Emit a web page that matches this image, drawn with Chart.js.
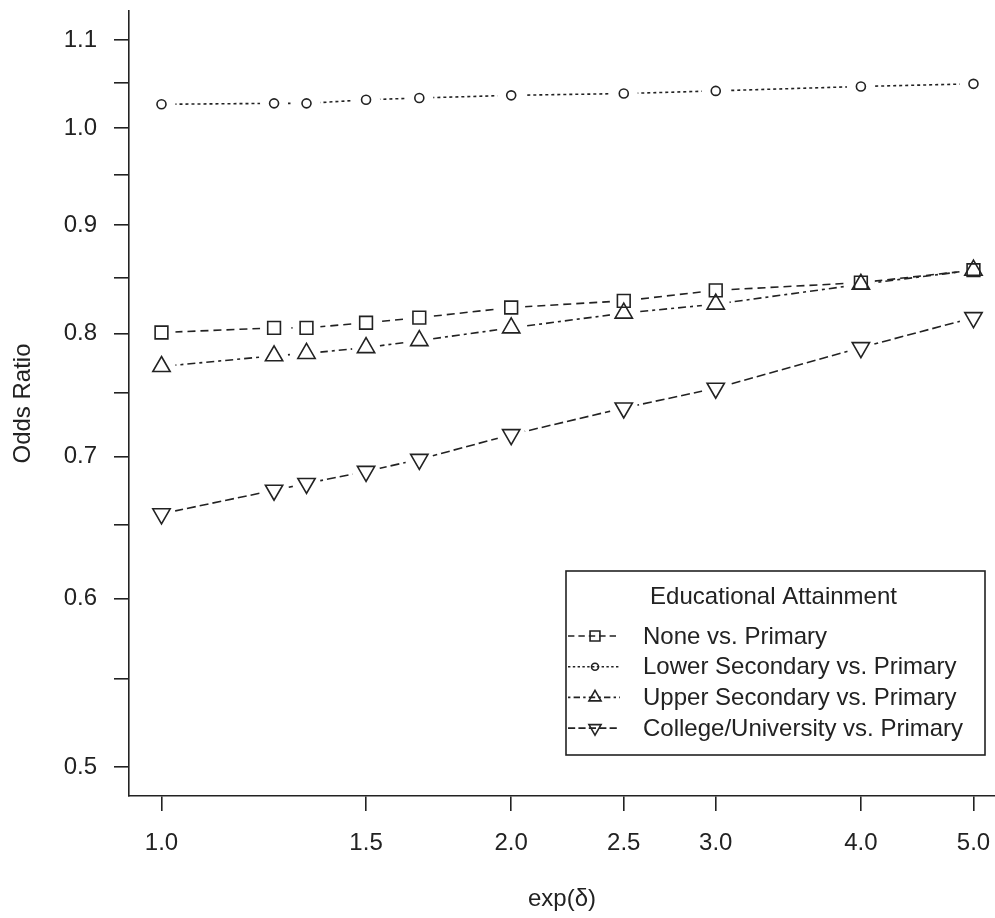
<!DOCTYPE html>
<html><head><meta charset="utf-8">
<script src="https://cdn.jsdelivr.net/npm/chart.js@4/dist/chart.umd.min.js"></script>
<style>html,body{margin:0;padding:0;background:#fff;overflow:hidden}canvas{display:block}</style>
</head><body>
<canvas id="c" width="995" height="918"></canvas>
<script>
// ---- data ----
const expDelta = [1.0, 1.25, 1.333, 1.5, 1.667, 2.0, 2.5, 3.0, 4.0, 5.0];
const noneVsPrimary = [0.801, 0.805, 0.805, 0.8095, 0.814, 0.823, 0.829, 0.8385, 0.8455, 0.857];
const lowerSecVsPrimary = [1.026, 1.027, 1.027, 1.031, 1.033, 1.036, 1.038, 1.041, 1.046, 1.049];
const upperSecVsPrimary = [0.772, 0.781, 0.783, 0.788, 0.794, 0.805, 0.818, 0.826, 0.844, 0.857];
const collegeVsPrimary = [0.658, 0.675, 0.680, 0.689, 0.698, 0.717, 0.738, 0.754, 0.788, 0.814];
const seriesNames = ['None vs. Primary', 'Lower Secondary vs. Primary', 'Upper Secondary vs. Primary', 'College/University vs. Primary'];
const legendTitle = 'Educational Attainment';
const xTickValues = [1.0, 1.5, 2.0, 2.5, 3.0, 4.0, 5.0];
const xTickLabels = ['1.0', '1.5', '2.0', '2.5', '3.0', '4.0', '5.0'];
const yTickValues = [0.5, 0.55, 0.6, 0.65, 0.7, 0.75, 0.8, 0.85, 0.9, 0.95, 1.0, 1.05, 1.1];
const yTickLabels = ['0.5', '', '0.6', '', '0.7', '', '0.8', '', '0.9', '', '1.0', '', '1.1'];
const xTitle = 'exp(δ)';
const yTitle = 'Odds Ratio';

// ---- styles ----
const INK = '#222';
const FONT = '"Liberation Sans", Arial, sans-serif';
const seriesValues = [noneVsPrimary, lowerSecVsPrimary, upperSecVsPrimary, collegeVsPrimary];
const seriesStyle = [
  {pointStyle: 'rect', radius: 9, rotation: 0, dash: [8, 5], legendRadius: 7},
  {pointStyle: 'circle', radius: 4.5, rotation: 0, dash: [3, 3], legendRadius: 3.5},
  {pointStyle: 'triangle', radius: 10, rotation: 0, dash: [3, 4, 8, 4], legendRadius: 7},
  {pointStyle: 'triangle', radius: 10, rotation: 180, dash: [9, 4], legendRadius: 7}
];

const toXY = vals => expDelta.map((x, i) => ({x: x, y: vals[i]}));
const datasets = [];
seriesValues.forEach((vals, i) => {
  const st = seriesStyle[i];
  datasets.push({
    label: seriesNames[i], data: toXY(vals), showLine: true, gapAround: true,
    borderColor: INK, borderWidth: 1.6, borderDash: st.dash, pointRadius: 0,
    pointHoverRadius: 0, tension: 0, fill: false
  });
  datasets.push({
    label: seriesNames[i] + ' points', data: toXY(vals), showLine: false,
    pointStyle: st.pointStyle, pointRadius: st.radius, pointRotation: st.rotation,
    pointBorderColor: INK, pointBackgroundColor: 'rgba(0,0,0,0)', pointBorderWidth: 1.6,
    pointHoverRadius: st.radius
  });
});

const GAP = 14;
const gapPlugin = {
  id: 'pointGaps',
  beforeDatasetDraw(chart, args) {
    const ds = chart.data.datasets[args.index];
    if (!ds.gapAround) return;
    const ctx = chart.ctx;
    ctx.save();
    ctx.beginPath();
    ctx.rect(0, 0, chart.width, chart.height);
    args.meta.data.forEach(p => {
      ctx.moveTo(p.x + GAP, p.y);
      ctx.arc(p.x, p.y, GAP, 0, Math.PI * 2);
    });
    ctx.clip('evenodd');
  },
  afterDatasetDraw(chart, args) {
    const ds = chart.data.datasets[args.index];
    if (ds.gapAround) chart.ctx.restore();
  }
};

function drawMarker(ctx, style, r, rot, x, y) {
  if (Chart.helpers && Chart.helpers.drawPoint) {
    Chart.helpers.drawPoint(ctx, {pointStyle: style, radius: r, rotation: rot, borderWidth: 1.5}, x, y);
    return;
  }
  ctx.beginPath();
  if (style === 'circle') ctx.arc(x, y, r, 0, Math.PI * 2);
  else if (style === 'rect') { const s = r * Math.SQRT1_2; ctx.rect(x - s, y - s, 2 * s, 2 * s); }
  else {
    let a = rot * Math.PI / 180;
    for (let k = 0; k < 3; k++) {
      const px = x + Math.sin(a) * r, py = y - Math.cos(a) * r;
      if (k === 0) ctx.moveTo(px, py); else ctx.lineTo(px, py);
      a += 2 * Math.PI / 3;
    }
    ctx.closePath();
  }
  ctx.stroke();
}

const legendPlugin = {
  id: 'rLegend',
  afterDraw(chart) {
    const {ctx, chartArea: a} = chart;
    const w = 419, h = 184;
    const right = a.right - 10, bottom = a.bottom - 41;
    const left = right - w, top = bottom - h;
    ctx.save();
    ctx.fillStyle = '#fff';
    ctx.fillRect(left, top, w, h);
    ctx.strokeStyle = INK; ctx.lineWidth = 1.6; ctx.setLineDash([]);
    ctx.strokeRect(left, top, w, h);
    ctx.font = '24px ' + FONT;
    ctx.fillStyle = INK; ctx.textBaseline = 'middle'; ctx.textAlign = 'center';
    ctx.fillText(legendTitle, left + w / 2 - 2, top + 26);
    ctx.textAlign = 'left';
    seriesNames.forEach((name, i) => {
      const st = seriesStyle[i];
      const y = top + 65 + i * 30.7;
      ctx.strokeStyle = INK; ctx.lineWidth = 1.6;
      ctx.setLineDash(st.dash.map(d => d * 0.8));
      ctx.beginPath(); ctx.moveTo(left + 2, y); ctx.lineTo(left + 54, y); ctx.stroke();
      ctx.setLineDash([]);
      ctx.fillStyle = 'rgba(0,0,0,0)';
      drawMarker(ctx, st.pointStyle, st.legendRadius, st.rotation, left + 29, y);
      ctx.fillStyle = INK;
      ctx.fillText(name, left + 77, y + 1);
    });
    ctx.restore();
  }
};

new Chart(document.getElementById('c'), {
  type: 'scatter',
  data: {datasets: datasets},
  plugins: [gapPlugin, legendPlugin],
  options: {
    responsive: false, animation: false, events: [],
    layout: {padding: {top: 11, right: 0, left: 0, bottom: 0}, autoPadding: false},
    plugins: {legend: {display: false}, tooltip: {enabled: false}, title: {display: false}},
    scales: {
      x: {
        type: 'logarithmic', position: 'bottom', min: 0.93763, max: 5.218,
        afterBuildTicks: s => { s.ticks = xTickValues.map(v => ({value: v})); },
        afterFit: s => { s.height = 122; s.paddingLeft = 0; s.paddingRight = 0; },
        ticks: {
          autoSkip: false, maxRotation: 0, minRotation: 0, padding: 18, color: INK,
          font: {family: FONT, size: 24},
          callback: (v, i) => xTickLabels[i]
        },
        grid: {display: true, drawOnChartArea: false, drawTicks: true, tickLength: 15, color: INK, lineWidth: 1.6},
        border: {display: true, color: INK, width: 1.6},
        title: {display: true, text: xTitle, color: INK, font: {family: FONT, size: 24}, padding: {top: 0, bottom: 4}}
      },
      y: {
        type: 'logarithmic', position: 'left', min: 0.48448, max: 1.13524,
        afterBuildTicks: s => { s.ticks = yTickValues.map(v => ({value: v})); },
        afterFit: s => { s.width = 129; s.paddingTop = 0; s.paddingBottom = 0; },
        ticks: {
          autoSkip: false, padding: 17, color: INK,
          font: {family: FONT, size: 24},
          callback: (v, i) => yTickLabels[i]
        },
        grid: {display: true, drawOnChartArea: false, drawTicks: true, tickLength: 15, color: INK, lineWidth: 1.6},
        border: {display: true, color: INK, width: 1.6},
        title: {display: true, text: yTitle, color: INK, font: {family: FONT, size: 24}, padding: {top: 9, bottom: 0}}
      }
    }
  }
});
</script>
</body></html>
